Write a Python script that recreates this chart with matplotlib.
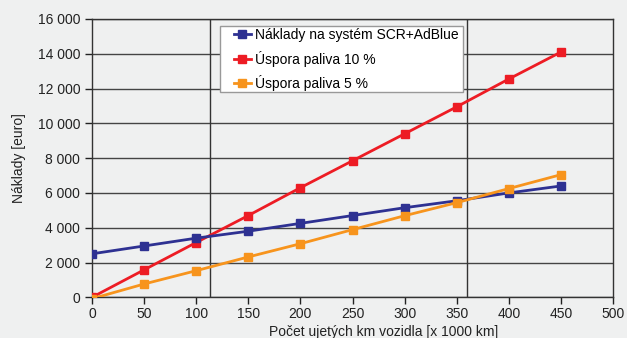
import matplotlib
matplotlib.use('Agg')
import matplotlib.pyplot as plt
from matplotlib.patches import Rectangle
from matplotlib.ticker import FuncFormatter

plt.rcParams['font.family'] = ['Liberation Sans', 'DejaVu Sans']

# Data: mileage [x 1000 km] and costs / savings [euro]
km = [0, 50, 100, 150, 200, 250, 300, 350, 400, 450]
naklady_scr = [2500, 2950, 3400, 3800, 4250, 4700, 5150, 5550, 6000, 6400]
uspora_10 = [0, 1580, 3150, 4700, 6300, 7850, 9400, 10950, 12550, 14100]
uspora_5 = [-80, 765, 1530, 2320, 3080, 3890, 4690, 5440, 6250, 7050]

# break-even points
zlom = [113, 360]

bg = '#eff0f0'
fig = plt.figure(figsize=(6.27, 3.38), dpi=100, facecolor=bg)
ax = fig.add_axes([92/627, 1 - 297.3/338, 521/627, 278.3/338])
ax.set_facecolor(bg)

ax.plot(km, naklady_scr, color='#2e3192', lw=2, marker='s', ms=5.5,
        label='Náklady na systém SCR+AdBlue', zorder=5)
ax.plot(km, uspora_10, color='#ed1c24', lw=2, marker='s', ms=5.5,
        label='Úspora paliva 10 %', zorder=4)
ax.plot(km, uspora_5, color='#f7941d', lw=2, marker='s', ms=5.5,
        label='Úspora paliva 5 %', zorder=6)

for z in zlom:
    ax.axvline(z, color='#333333', lw=1, zorder=2)

ax.set_xlim(0, 500)
ax.set_ylim(0, 16000)
ax.set_xticks(range(0, 501, 50))
ax.set_yticks(range(0, 16001, 2000))
ax.yaxis.set_major_formatter(FuncFormatter(lambda v, p: f'{int(v):,}'.replace(',', ' ')))
ax.grid(axis='y', color='#444444', lw=1, zorder=1)
ax.set_axisbelow(True)

for s in ax.spines.values():
    s.set_color('#333333')
    s.set_linewidth(1)
ax.tick_params(colors='#222222', labelsize=10, length=5, width=1, direction='out')
ax.tick_params(axis='x', pad=2)

ax.set_ylabel('Náklady [euro]', fontsize=10, color='#222222', labelpad=8)
ax.set_xlabel('Počet ujetých km vozidla [x 1000 km]', fontsize=10, color='#222222')
ax.xaxis.set_label_coords(0.56, -0.10)

# white legend box
box = Rectangle((0.2457, 0.7366), 0.4664, 0.2384, transform=ax.transAxes,
                facecolor='white', edgecolor='#999999', lw=1, zorder=9)
ax.add_patch(box)

leg = ax.legend(loc='upper left', bbox_to_anchor=(0.272, 0.968), borderaxespad=0,
                borderpad=0, frameon=False, fontsize=10, handlelength=1.25,
                handletextpad=0.25, labelspacing=0.62)
leg.set_zorder(10)

fig.savefig('out.png', dpi=100, facecolor=bg)
